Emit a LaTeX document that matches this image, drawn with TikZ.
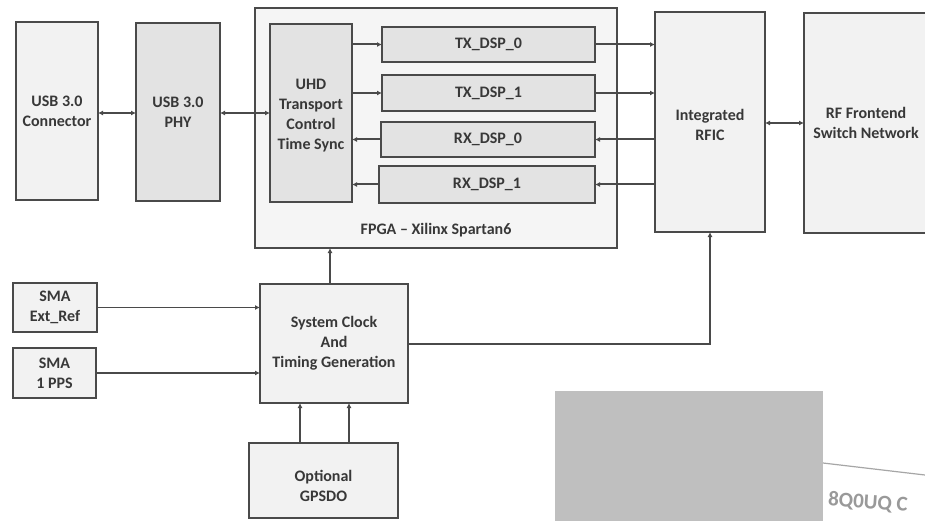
\documentclass[tikz,border=0pt]{standalone}
\usepackage{fontspec}
\setmainfont{Carlito}
\usetikzlibrary{arrows.meta}
\definecolor{ln}{HTML}{4A4A4A}
\definecolor{tx}{HTML}{383838}
\definecolor{fa}{HTML}{F2F2F2}
\definecolor{fb}{HTML}{E3E3E3}
\definecolor{fc}{HTML}{F5F5F5}
\begin{document}
\begin{tikzpicture}[x=1pt,y=-1pt,
  box/.style={draw=ln, line width=1.8pt, fill=fa, inner sep=0pt, outer sep=0pt,
    align=center, text=tx, font=\fontsize{16}{20}\selectfont\bfseries},
  dbox/.style={box, fill=fb},
  lbl/.style={inner sep=0pt, align=center, text=tx, font=\fontsize{16}{20}\selectfont\bfseries},
  conn/.style={draw=ln, line width=2pt, -{Latex[length=5pt,width=5pt]}},
  dconn/.style={draw=ln, line width=2pt, {Latex[length=5pt,width=5pt]}-{Latex[length=5pt,width=5pt]}},
  thin/.style={conn, line width=1.5pt}]
\useasboundingbox (0,0) rectangle (925,521);
\fill[white] (0,0) rectangle (925,521);
% top row
\node[box, minimum width=82pt, minimum height=178pt] (usbc) at (57,111) {USB 3.0\\Connector};
\node[dbox, minimum width=84pt, minimum height=178pt] (phy) at (178,112) {USB 3.0\\PHY};
\node[box, fill=fc, minimum width=362pt, minimum height=240pt] (fpga) at (436,128) {};
\node[lbl] (fpgal) at (436,230) {FPGA -- Xilinx Spartan6};
\node[dbox, minimum width=82pt, minimum height=178pt] (uhd) at (311,113) {};
\node[lbl] (uhdl) at (311,116) {UHD\\Transport\\Control\\Time Sync};
\node[dbox, minimum width=213pt, minimum height=35pt] (tx0) at (488.5,44.5) {TX\_DSP\_0};
\node[dbox, minimum width=213pt, minimum height=36pt] (tx1) at (488.5,93) {TX\_DSP\_1};
\node[dbox, minimum width=214pt, minimum height=35pt] (rx0) at (488,139.5) {RX\_DSP\_0};
\node[dbox, minimum width=216pt, minimum height=37pt] (rx1) at (487,184.5) {RX\_DSP\_1};
\node[box, minimum width=110pt, minimum height=220pt] (rfic) at (710,122) {};
\node[lbl] (rficl) at (710,125) {Integrated\\RFIC};
\node[box, minimum width=124pt, minimum height=220pt] (rff) at (866,123) {RF Frontend\\Switch Network};
% bottom
\node[box, minimum width=84pt, minimum height=49pt] (sma1) at (55,307.5) {SMA\\Ext\_Ref};
\node[box, minimum width=83pt, minimum height=50pt] (sma2) at (54.5,373) {SMA\\1 PPS};
\node[box, minimum width=148pt, minimum height=119pt] (clk) at (334,343.5) {System Clock\\And\\Timing Generation};
\node[box, minimum width=149pt, minimum height=75pt] (gps) at (323.5,480.5) {};
\node[lbl] (gpsl) at (323.5,486) {Optional\\GPSDO};
% connectors
\coordinate (yu) at (0,113);
\coordinate (yr) at (0,123);
\draw[dconn] (usbc.east |- yu) -- (phy.west |- yu);
\draw[dconn] (phy.east |- yu) -- (uhd.west |- yu);
\draw[conn] (uhd.east |- tx0.west) -- (tx0.west);
\draw[conn] (uhd.east |- tx1.west) -- (tx1.west);
\draw[conn] (rx0.west) -- (uhd.east |- rx0.west);
\draw[conn] (rx1.west) -- (uhd.east |- rx1.west);
\draw[conn] (tx0.east) -- (rfic.west |- tx0.east);
\draw[conn] (tx1.east) -- (rfic.west |- tx1.east);
\draw[conn] (rfic.west |- rx0.east) -- (rx0.east);
\draw[conn] (rfic.west |- rx1.east) -- (rx1.east);
\draw[dconn] (rfic.east |- yr) -- (rff.west |- yr);
\draw[thin] (sma1.east) -- (clk.west |- sma1.east);
\draw[thin] (sma2.east) -- (clk.west |- sma2.east);
\coordinate (c1) at (330,0);
\draw[conn] (clk.north -| c1) -- (fpga.south -| c1);
\draw[conn] (clk.east) -- (clk.east -| rfic.south) -- (rfic.south);
\coordinate (g1) at (300,0);
\coordinate (g2) at (349,0);
\draw[thin] (gps.north -| g1) -- (clk.south -| g1);
\draw[conn] (gps.north -| g2) -- (clk.south -| g2);
% scan remnants
\fill[gray!50] (555,391) rectangle (823,521);
\draw[gray!70, line width=1.2pt] (823,463) -- (925,475);
\node[text=gray!80, font=\fontsize{21}{21}\selectfont\bfseries, anchor=west, rotate=-4, inner sep=0pt] (wm) at (828,500) {8Q0UQ C};
\end{tikzpicture}
\end{document}
